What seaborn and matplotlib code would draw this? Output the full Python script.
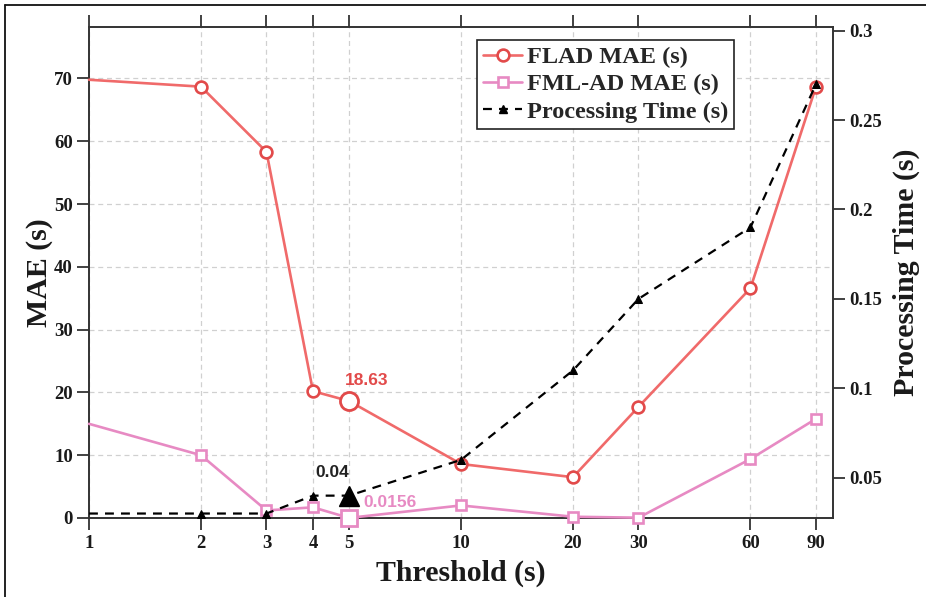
import matplotlib
matplotlib.use("Agg")
import matplotlib.pyplot as plt
import numpy as np
import pandas as pd
import seaborn as sns
from matplotlib.lines import Line2D

# ---- data ---------------------------------------------------------------
thresholds = [1, 2, 3, 4, 5, 10, 20, 30, 60, 90]
flad_mae = [69.8, 68.7, 58.3, 20.2, 18.63, 8.6, 6.5, 17.7, 36.6, 68.7]
fmlad_mae = [15.0, 10.0, 1.2, 1.7, 0.0156, 2.0, 0.2, 0.05, 9.4, 15.8]
proc_time = [0.03, 0.03, 0.03, 0.04, 0.04, 0.06, 0.11, 0.15, 0.19, 0.27]

x_ticks = [1, 2, 3, 4, 5, 10, 20, 30, 60, 90]
mae_ticks = [0, 10, 20, 30, 40, 50, 60, 70]
time_ticks = [0.05, 0.1, 0.15, 0.2, 0.25, 0.3]
time_tick_labels = ["0.05", "0.1", "0.15", "0.2", "0.25", "0.3"]
best_idx = 4  # threshold = 5 s

df = pd.DataFrame({"threshold": thresholds, "flad": flad_mae,
                   "fmlad": fmlad_mae, "time": proc_time})

# ---- style --------------------------------------------------------------
sns.set_style("white")
plt.rcParams["font.family"] = ["Liberation Serif", "DejaVu Serif"]
plt.rcParams["font.weight"] = "bold"

RED_LINE = "#F06A6A"
RED_EDGE = "#E24A4A"
PINK = "#E78AC3"
SPINE = "#333333"
GRID = "#D0D0D0"
TEXT = "#1a1a1a"

fig = plt.figure(figsize=(9.26, 5.97), dpi=100)
ax = fig.add_axes([89 / 926, 1 - 518 / 597, (833 - 89) / 926, (518 - 27) / 597])
ax2 = ax.twinx()

plain_marks = [i for i in range(1, len(thresholds)) if i != best_idx]

sns.lineplot(data=df, x="threshold", y="flad", ax=ax, color=RED_LINE, lw=1.9,
             marker="o", markersize=8.5, markerfacecolor="white",
             markeredgecolor=RED_EDGE, markeredgewidth=1.9,
             markevery=plain_marks, zorder=4, clip_on=False)
sns.lineplot(data=df, x="threshold", y="fmlad", ax=ax, color=PINK, lw=1.9,
             marker="s", markersize=7, markerfacecolor="white",
             markeredgecolor=PINK, markeredgewidth=1.9,
             markevery=plain_marks, zorder=4, clip_on=False)
sns.lineplot(data=df, x="threshold", y="time", ax=ax2, color="black", lw=1.6,
             dashes=(4, 3.2), marker="^", markersize=5.5,
             markerfacecolor="black", markeredgecolor="black",
             markevery=plain_marks, zorder=4, clip_on=False)

# highlighted operating point
bx = thresholds[best_idx]
ax.plot([bx], [flad_mae[best_idx]], marker="o", ms=13, mfc="white",
        mec=RED_EDGE, mew=2.0, ls="none", zorder=6, clip_on=False)
ax.plot([bx], [fmlad_mae[best_idx]], marker="s", ms=12, mfc="white",
        mec=PINK, mew=2.0, ls="none", zorder=6, clip_on=False)
ax2.plot([bx], [proc_time[best_idx]], marker="^", ms=14, mfc="black",
         mec="black", ls="none", zorder=6, clip_on=False)

ann_font = dict(family=["Liberation Sans", "DejaVu Sans"], weight="bold",
                fontsize=12.5)
ax.annotate(f"{flad_mae[best_idx]:.2f}", (bx, flad_mae[best_idx]),
            xytext=(13, 15), textcoords="offset points", ha="center",
            va="center", color=RED_EDGE, **ann_font)
ax.annotate(f"{fmlad_mae[best_idx]:.4f}", (bx, fmlad_mae[best_idx]),
            xytext=(10, 11), textcoords="offset points", ha="left",
            va="center", color=PINK, **ann_font)
ax2.annotate(f"{proc_time[best_idx]:.2f}", (bx, proc_time[best_idx]),
             xytext=(-12, 17), textcoords="offset points", ha="center",
             va="center", color="#222222", **ann_font)

# ---- axes ---------------------------------------------------------------
ax.set_xscale("log")
ax.set_xlim(1, 100)
ax.set_ylim(0, 78.2)
ax2.set_ylim(0.0275, 0.302)

ax.set_xticks(x_ticks)
ax.set_xticklabels([str(t) for t in x_ticks])
ax.xaxis.set_minor_locator(matplotlib.ticker.NullLocator())
ax.set_yticks(mae_ticks)
ax2.set_yticks(time_ticks)
ax2.set_yticklabels(time_tick_labels)

tick_kw = dict(direction="out", length=8.6, width=1.3, color=SPINE,
               labelsize=13.5, labelcolor=TEXT)
ax.tick_params(axis="x", which="both", top=True, bottom=True, pad=4, **tick_kw)
ax.tick_params(axis="y", left=True, right=False, pad=3, **tick_kw)
ax2.tick_params(axis="y", right=True, left=False, pad=3, **tick_kw)

for lab in ax.get_xticklabels() + ax.get_yticklabels() + ax2.get_yticklabels():
    lab.set_fontweight("bold")

ax.grid(True, which="major", axis="both", color=GRID, lw=0.9,
        ls=(0, (4, 3)))
ax.set_axisbelow(True)

for side in ["left", "bottom", "top"]:
    ax.spines[side].set_color(SPINE)
    ax.spines[side].set_linewidth(1.4)
ax.spines["right"].set_visible(False)
for side in ["left", "bottom", "top"]:
    ax2.spines[side].set_visible(False)
ax2.spines["right"].set_color(SPINE)
ax2.spines["right"].set_linewidth(1.4)

ax.set_xlabel("Threshold (s)", fontsize=21.5, fontweight="bold", labelpad=5,
              color=TEXT)
ax.set_ylabel("MAE (s)", fontsize=21.5, fontweight="bold", labelpad=1,
              color=TEXT)
ax2.set_ylabel("Processing Time (s)", fontsize=21.5, fontweight="bold",
               labelpad=8, color=TEXT)

# ---- legend -------------------------------------------------------------
handles = [
    Line2D([], [], color=RED_LINE, lw=1.9, marker="o", ms=8.5, mfc="white",
           mec=RED_EDGE, mew=1.9),
    Line2D([], [], color=PINK, lw=1.9, marker="s", ms=7, mfc="white",
           mec=PINK, mew=1.9),
    Line2D([], [], color="black", lw=1.6, ls=(0, (4, 3.2)), marker="^",
           ms=5.5, mfc="black", mec="black"),
]
labels = ["FLAD MAE (s)", "FML-AD MAE (s)", "Processing Time (s)"]
leg = ax2.legend(handles, labels, loc="upper left",
                 bbox_to_anchor=((477 - 89) / 744, (518 - 40) / 491),
                 borderaxespad=0, fancybox=False, framealpha=1,
                 edgecolor="#222222", handlelength=1.6, handletextpad=0.2,
                 labelspacing=0.22, borderpad=0.25,
                 prop=dict(family=["Liberation Serif"], weight="bold",
                           size=17.5))
leg.get_frame().set_linewidth(1.2)
leg.set_zorder(10)

# outer frame lines
fig.add_artist(Line2D([5 / 926, 5 / 926], [0, 1 - 4.5 / 597],
                      transform=fig.transFigure, color="#111111", lw=1.3))
fig.add_artist(Line2D([5 / 926, 1], [1 - 4.5 / 597, 1 - 4.5 / 597],
                      transform=fig.transFigure, color="#111111", lw=1.3))

fig.savefig("out.png", dpi=100)
